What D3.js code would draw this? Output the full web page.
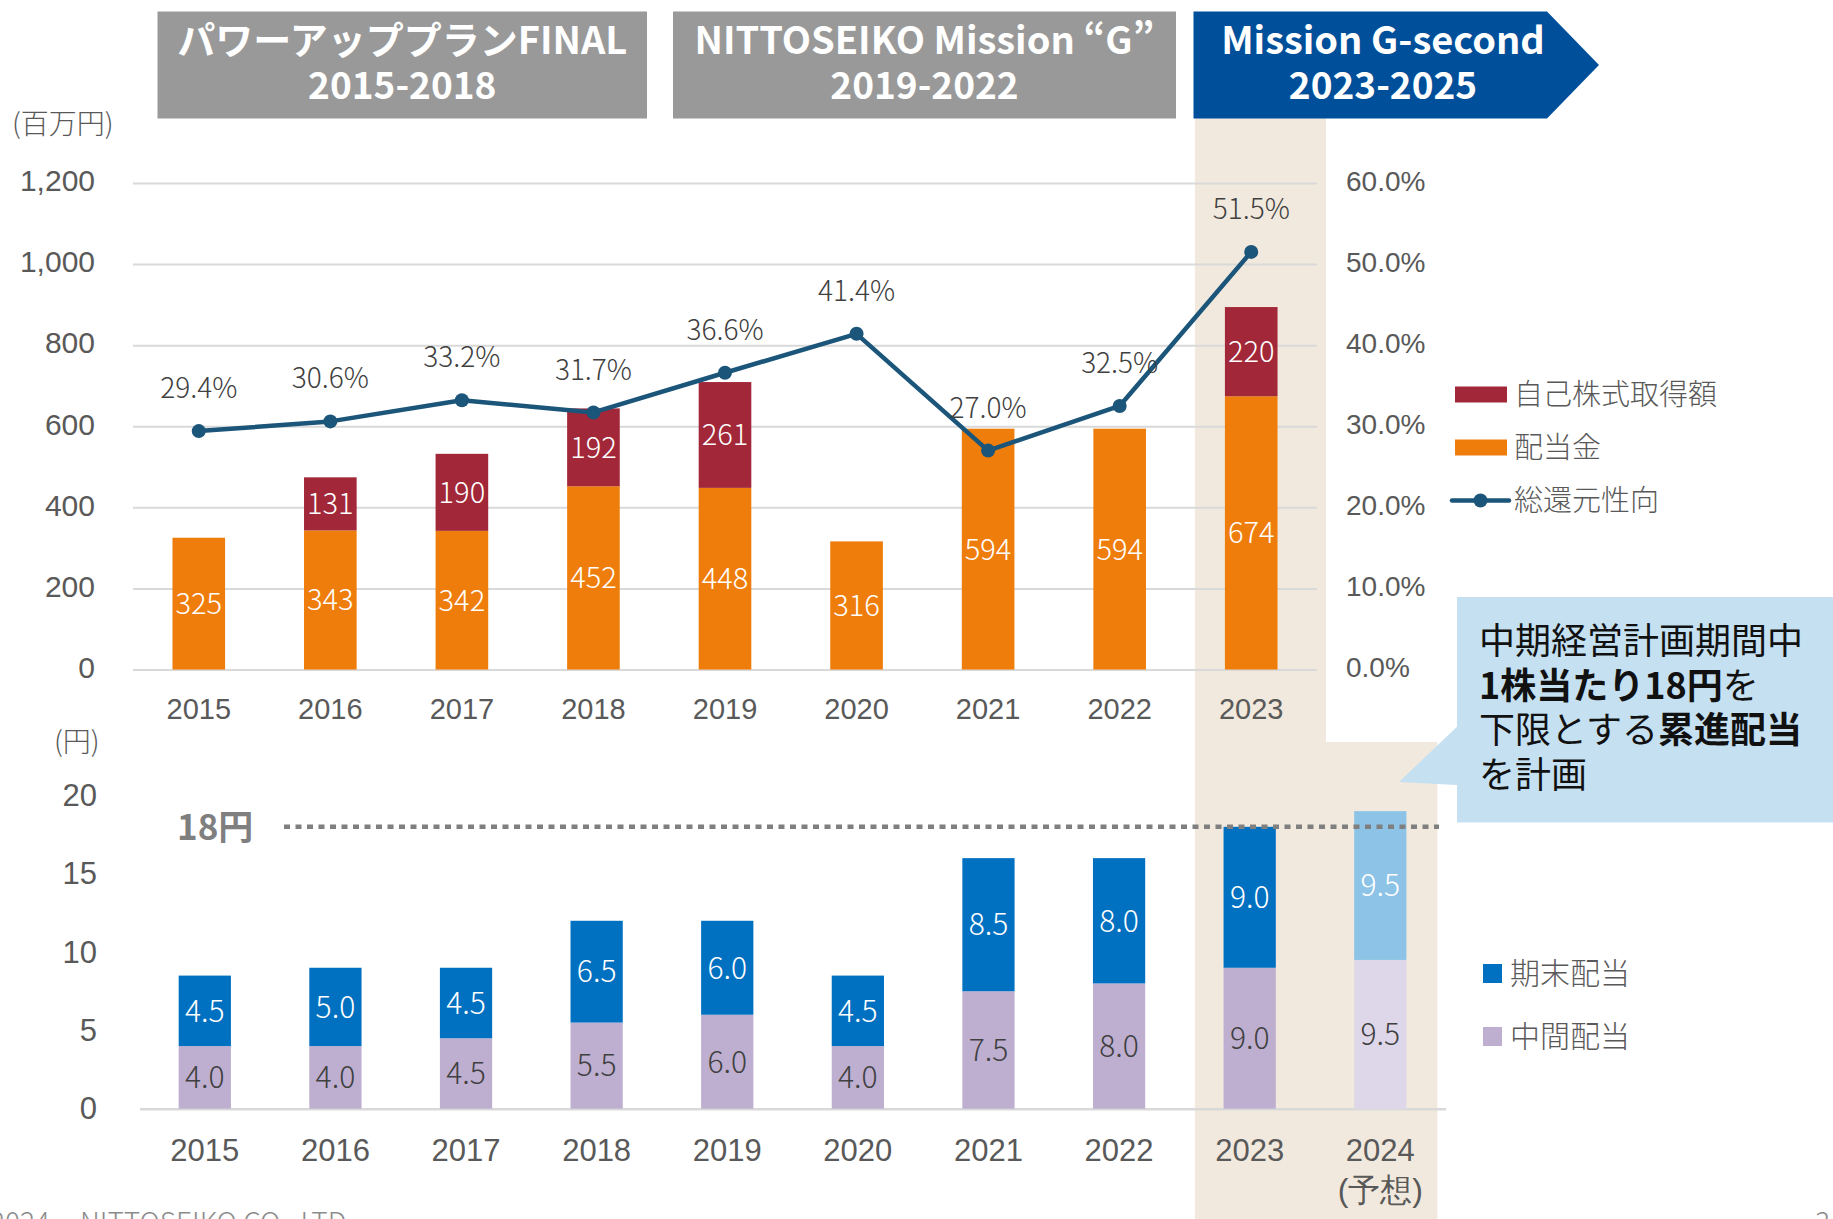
<!DOCTYPE html>
<html lang="ja">
<head>
<meta charset="utf-8">
<script src="https://cdn.jsdelivr.net/npm/d3@7"></script>
<style>
html, body { margin: 0; padding: 0; background: #fff; }
svg { display: block; font-family: "Noto Sans CJK JP", "Noto Sans", sans-serif; font-weight: 300; }
</style>
</head>
<body>
<svg id="chart" width="1833" height="1219"></svg>
<script>
// 株主還元（百万円）と総還元性向（%）
const years = ["2015", "2016", "2017", "2018", "2019", "2020", "2021", "2022", "2023"];
const dividendTotal = [325, 343, 342, 452, 448, 316, 594, 594, 674];
const buybackTotal = [0, 131, 190, 192, 261, 0, 0, 0, 220];
const payoutRatio = [29.4, 30.6, 33.2, 31.7, 36.6, 41.4, 27.0, 32.5, 51.5];
const amountTicks = [0, 200, 400, 600, 800, 1000, 1200];
const ratioTicks = [0, 10, 20, 30, 40, 50, 60];

// 1株当たり配当（円）
const dpsYears = ["2015", "2016", "2017", "2018", "2019", "2020", "2021", "2022", "2023", "2024"];
const interimDps = [4.0, 4.0, 4.5, 5.5, 6.0, 4.0, 7.5, 8.0, 9.0, 9.5];
const yearEndDps = [4.5, 5.0, 4.5, 6.5, 6.0, 4.5, 8.5, 8.0, 9.0, 9.5];
const dpsTicks = [0, 5, 10, 15, 20];
const dpsFloor = 18;
const forecastYear = "2024";

// 中期経営計画
const plans = [
  { name: "パワーアッププランFINAL", span: "2015-2018" },
  { name: "NITTOSEIKO Mission “G”", span: "2019-2022" },
  { name: "Mission G-second", span: "2023-2025" }
];

const C = {
  grid: "#D9D9D9",
  axisText: "#595959",
  valueText: "#404040",
  dividend: "#EF7D0C",
  buyback: "#A12739",
  ratio: "#1B5579",
  yearEnd: "#0070C0",
  interim: "#BEAFD0",
  yearEndFc: "#8CC3E6",
  interimFc: "#DED7E9",
  planGray: "#999999",
  planBlue: "#004F9A",
  highlight: "#F1E9DD",
  callout: "#C4E0F1",
  floor: "#7F7F7F"
};

const svg = d3.select("#chart");

// ---------- scales ----------
const xTop = d3.scaleBand().domain(years).range([133, 1317]).paddingInner(0.6).paddingOuter(0.3);
const yTop = d3.scaleLinear().domain([0, 1200]).range([669.5, 183]);
const yPct = d3.scaleLinear().domain([0, 60]).range([669.5, 183]);

const xBot = d3.scaleBand().domain(dpsYears).range([139.5, 1445.6]).paddingInner(0.6).paddingOuter(0.3);
const yBot = d3.scaleLinear().domain([0, 20]).range([1108.7, 795.5]);

// ---------- highlight for the current plan ----------
const hx0 = xTop("2023") - 30;
svg.append("rect").attr("x", hx0).attr("y", 118).attr("width", 131).attr("height", 626).attr("fill", C.highlight);
svg.append("rect").attr("x", hx0).attr("y", 742).attr("width", 242.5).attr("height", 480).attr("fill", C.highlight);

// ---------- plan banners ----------
const banners = [
  { x0: 157.5, x1: 647, fill: C.planGray, arrow: false },
  { x0: 673, x1: 1176, fill: C.planGray, arrow: false },
  { x0: 1193.5, x1: 1547, fill: C.planBlue, arrow: true }
];
const by0 = 11.5, by1 = 118.5;
banners.forEach((b, i) => {
  const pts = b.arrow
    ? [[b.x0, by0], [b.x1, by0], [b.x1 + 52, (by0 + by1) / 2], [b.x1, by1], [b.x0, by1]]
    : [[b.x0, by0], [b.x1, by0], [b.x1, by1], [b.x0, by1]];
  svg.append("polygon").attr("points", pts.map(p => p.join(",")).join(" ")).attr("fill", b.fill);
  const cx = b.arrow ? 1383 : (b.x0 + b.x1) / 2;
  const g = svg.append("g").attr("text-anchor", "middle").attr("fill", "#fff").attr("font-weight", 700);
  g.append("text").attr("x", cx).attr("y", 54).attr("font-size", 38).text(plans[i].name);
  g.append("text").attr("x", cx).attr("y", 99).attr("font-size", 37).text(plans[i].span);
});

// ---------- top chart: axes ----------
svg.append("text").attr("x", 12).attr("y", 134).attr("font-size", 28).attr("fill", C.axisText).text("(百万円)");

const gLeft = svg.append("g").attr("transform", "translate(133,0)")
  .call(d3.axisLeft(yTop).tickValues(amountTicks).tickFormat(d3.format(","))
    .tickSize(-(1317 - 133)).tickPadding(38));
gLeft.select(".domain").remove();
gLeft.selectAll(".tick line").attr("stroke", C.grid).attr("stroke-width", 2);
gLeft.selectAll(".tick text").attr("fill", C.axisText).attr("font-size", 30).attr("font-family", null).attr("dy", "0.26em");

const gRight = svg.append("g").attr("transform", "translate(1346,0)")
  .call(d3.axisRight(yPct).tickValues(ratioTicks).tickFormat(d => d3.format(".1f")(d) + "%")
    .tickSize(0).tickPadding(0));
gRight.select(".domain").remove();
gRight.selectAll(".tick text").attr("fill", C.axisText).attr("font-size", 28).attr("font-family", null).attr("dy", "0.26em");

const gXTop = svg.append("g").attr("transform", "translate(0,669.5)")
  .call(d3.axisBottom(xTop).tickSize(0).tickPadding(28.5));
gXTop.select(".domain").remove();
gXTop.selectAll(".tick text").attr("fill", C.axisText).attr("font-size", 29).attr("font-family", null);

// ---------- top chart: stacked bars ----------
const topRows = years.map((y, i) => ({ year: y, dividend: dividendTotal[i], buyback: buybackTotal[i] }));
const topStack = d3.stack().keys(["dividend", "buyback"])(topRows);
const topColor = { dividend: C.dividend, buyback: C.buyback };

topStack.forEach(layer => {
  const g = svg.append("g");
  layer.forEach(d => {
    const v = d[1] - d[0];
    if (v <= 0) return;
    g.append("rect")
      .attr("x", xTop(d.data.year)).attr("width", xTop.bandwidth())
      .attr("y", yTop(d[1])).attr("height", yTop(d[0]) - yTop(d[1]))
      .attr("fill", topColor[layer.key]);
    g.append("text")
      .attr("x", xTop(d.data.year) + xTop.bandwidth() / 2)
      .attr("y", yTop((d[0] + d[1]) / 2)).attr("dy", "0.36em")
      .attr("text-anchor", "middle").attr("fill", "#fff").attr("font-size", 29)
      .text(v);
  });
});

// ---------- top chart: payout ratio line ----------
const cxTop = y => xTop(y) + xTop.bandwidth() / 2;
const ratioRows = years.map((y, i) => ({ year: y, v: payoutRatio[i] }));
svg.append("path").datum(ratioRows)
  .attr("d", d3.line().x(d => cxTop(d.year)).y(d => yPct(d.v)))
  .attr("fill", "none").attr("stroke", C.ratio).attr("stroke-width", 4.5).attr("stroke-linejoin", "round");
svg.append("g").selectAll("circle").data(ratioRows).join("circle")
  .attr("cx", d => cxTop(d.year)).attr("cy", d => yPct(d.v)).attr("r", 7).attr("fill", C.ratio);
svg.append("g").selectAll("text").data(ratioRows).join("text")
  .attr("x", d => cxTop(d.year)).attr("y", d => yPct(d.v) - 43).attr("dy", "0.36em")
  .attr("text-anchor", "middle").attr("fill", C.valueText).attr("font-size", 28)
  .text(d => d3.format(".1f")(d.v) + "%");

// ---------- top legend ----------
const legTop = svg.append("g").attr("font-size", 29).attr("fill", C.axisText);
[["自己株式取得額", C.buyback, 394.5], ["配当金", C.dividend, 447.5]].forEach(([label, col, cy]) => {
  legTop.append("rect").attr("x", 1455).attr("y", cy - 8).attr("width", 52).attr("height", 16).attr("fill", col);
  legTop.append("text").attr("x", 1514).attr("y", cy).attr("dy", "0.36em").text(label);
});
legTop.append("line").attr("x1", 1452).attr("x2", 1509).attr("y1", 500.5).attr("y2", 500.5)
  .attr("stroke", C.ratio).attr("stroke-width", 4.5).attr("stroke-linecap", "round");
legTop.append("circle").attr("cx", 1480.5).attr("cy", 500.5).attr("r", 7).attr("fill", C.ratio);
legTop.append("text").attr("x", 1514).attr("y", 500.5).attr("dy", "0.36em").text("総還元性向");

// ---------- bottom chart: axes ----------
svg.append("text").attr("x", 54).attr("y", 752).attr("font-size", 28).attr("fill", C.axisText).text("(円)");

const gBotY = svg.append("g").attr("transform", "translate(97,0)")
  .call(d3.axisLeft(yBot).tickValues(dpsTicks).tickSize(0).tickPadding(0));
gBotY.select(".domain").remove();
gBotY.selectAll(".tick text").attr("fill", C.axisText).attr("font-size", 31).attr("font-family", null);

const gBotX = svg.append("g").attr("transform", "translate(0,1108.7)")
  .call(d3.axisBottom(xBot).tickSize(0).tickSizeOuter(0).tickPadding(30));
gBotX.select(".domain").attr("stroke", C.grid).attr("stroke-width", 2.5);
gBotX.selectAll(".tick text").attr("fill", C.axisText).attr("font-size", 31).attr("font-family", null)
  .each(function (d) {
    if (d !== forecastYear) return;
    const t = d3.select(this);
    t.text(null);
    t.append("tspan").attr("x", 0).text(d);
    t.append("tspan").attr("x", 0).attr("dy", "1.26em").attr("font-size", 32).text("(予想)");
  });

// ---------- bottom chart: stacked bars ----------
const botRows = dpsYears.map((y, i) => ({ year: y, interim: interimDps[i], yearEnd: yearEndDps[i] }));
const botStack = d3.stack().keys(["interim", "yearEnd"])(botRows);
const botFill = (key, year) => {
  const fc = year === forecastYear;
  if (key === "interim") return fc ? C.interimFc : C.interim;
  return fc ? C.yearEndFc : C.yearEnd;
};

botStack.forEach(layer => {
  const g = svg.append("g");
  layer.forEach(d => {
    const v = d[1] - d[0];
    g.append("rect")
      .attr("x", xBot(d.data.year)).attr("width", xBot.bandwidth())
      .attr("y", yBot(d[1])).attr("height", yBot(d[0]) - yBot(d[1]))
      .attr("fill", botFill(layer.key, d.data.year));
    g.append("text")
      .attr("x", xBot(d.data.year) + xBot.bandwidth() / 2)
      .attr("y", yBot((d[0] + d[1]) / 2)).attr("dy", "0.36em")
      .attr("text-anchor", "middle").attr("font-size", 30)
      .attr("fill", layer.key === "yearEnd" ? "#fff" : C.valueText)
      .text(d3.format(".1f")(v));
  });
});

// 下限ライン
svg.append("line").attr("x1", 284).attr("x2", 1439)
  .attr("y1", yBot(dpsFloor)).attr("y2", yBot(dpsFloor))
  .attr("stroke", C.floor).attr("stroke-width", 4.5).attr("stroke-dasharray", "6,5.5");
svg.append("text").attr("x", 177).attr("y", yBot(dpsFloor)).attr("dy", "0.38em")
  .attr("font-size", 35).attr("font-weight", 700).attr("fill", C.floor).text(dpsFloor + "円");

// ---------- bottom legend ----------
const legBot = svg.append("g").attr("font-size", 30).attr("fill", C.axisText);
[["期末配当", C.yearEnd, 973.5], ["中間配当", C.interim, 1036.5]].forEach(([label, col, cy]) => {
  legBot.append("rect").attr("x", 1483).attr("y", cy - 9.5).attr("width", 19).attr("height", 19).attr("fill", col);
  legBot.append("text").attr("x", 1510).attr("y", cy).attr("dy", "0.36em").text(label);
});

// ---------- callout ----------
svg.append("polygon")
  .attr("points", "1457,597 1833,597 1833,822.5 1457,822.5 1457,785 1399,782 1457,726.7")
  .attr("fill", C.callout);
const callLines = [
  [["中期経営計画期間中", 400]],
  [["1株当たり18円", 700], ["を", 400]],
  [["下限とする", 400], ["累進配当", 700]],
  [["を計画", 400]]
];
const call = svg.append("g").attr("font-size", 36).attr("fill", "#111");
callLines.forEach((parts, i) => {
  const t = call.append("text").attr("x", 1479).attr("y", 654 + i * 44.5);
  parts.forEach(([s, w]) => t.append("tspan").attr("font-weight", w).text(s));
});

// ---------- footer ----------
const foot = svg.append("g").attr("font-size", 28).attr("fill", "#8C8C8C");
foot.append("text").attr("x", 50).attr("y", 1233).attr("text-anchor", "end").text("©2024");
foot.append("text").attr("x", 80).attr("y", 1233).text("NITTOSEIKO CO., LTD.");
foot.append("text").attr("x", 1815).attr("y", 1233).text("3");
</script>
</body>
</html>
